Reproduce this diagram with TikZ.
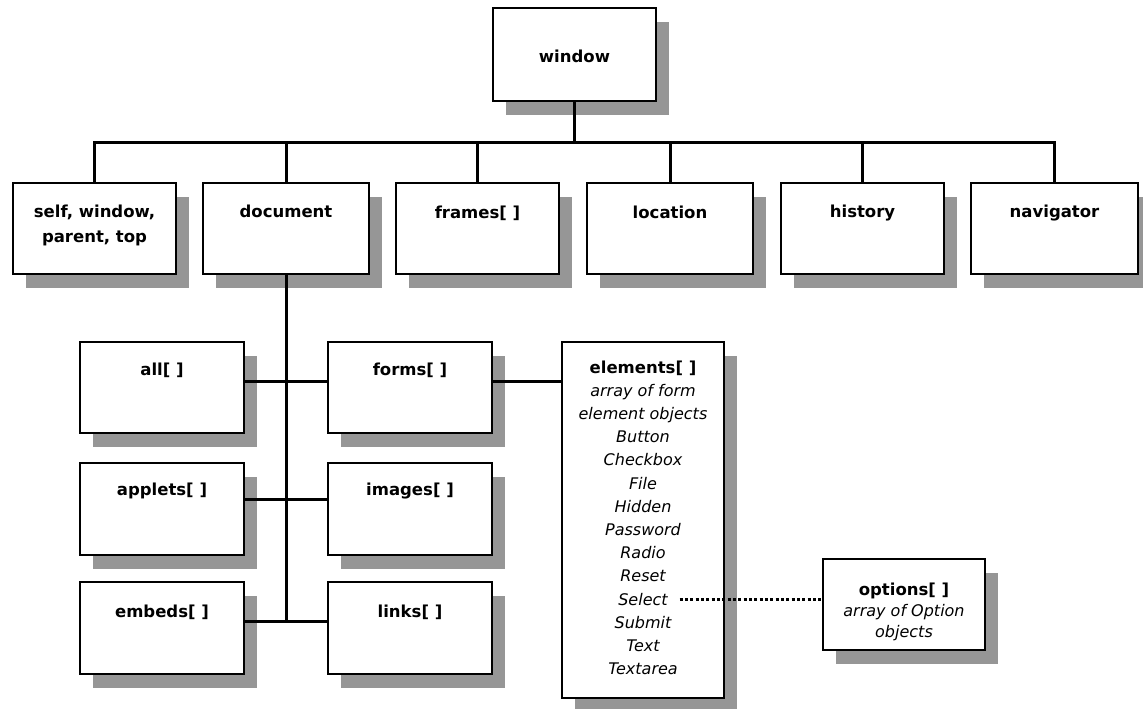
\documentclass[tikz,border=0pt]{standalone}
\usepackage{fontspec}
\setmainfont{DejaVu Sans}
\definecolor{shadowgray}{HTML}{969696}
\newcommand\objbox[5]{%
  \fill[shadowgray] ({#2+13},{#3+14}) rectangle ++(#4,#5);
  \node[box, minimum width={#4*0.6pt}, minimum height={#5*0.6pt}] (#1) at (#2,#3) {};}
\begin{document}
\begin{tikzpicture}[x=0.6pt,y=-0.6pt,
  box/.style={draw=black, line width=1.1pt, fill=white, anchor=north west, inner sep=0pt, outer sep=0pt},
  conn/.style={line width=1.8pt},
  lbl/.style={font=\bfseries\fontsize{9.9}{12}\selectfont, anchor=base, inner sep=0pt},
  itl/.style={font=\itshape\fontsize{9.6}{12}\selectfont, anchor=base, inner sep=0pt},
  dotline/.style={line width=1.8pt, dash pattern=on 1.8pt off 1.4pt}]
\useasboundingbox (0,0) rectangle (1143,708);

% boxes
\objbox{window}{493}{8}{163}{93}
\objbox{self}{13}{183}{163}{91}
\objbox{document}{203}{183}{166}{91}
\objbox{frames}{396}{183}{163}{91}
\objbox{location}{587}{183}{166}{91}
\objbox{history}{781}{183}{163}{91}
\objbox{navigator}{971}{183}{167}{91}
\objbox{all}{80}{342}{164}{91}
\objbox{forms}{328}{342}{164}{91}
\objbox{applets}{80}{463}{164}{92}
\objbox{images}{328}{463}{164}{92}
\objbox{embeds}{80}{582}{164}{92}
\objbox{links}{328}{582}{164}{92}
\objbox{elements}{562}{342}{162}{356}
\objbox{options}{823}{559}{162}{91}

% labels
\node[lbl] (twindow) at (574.5,62) {window};
\node[lbl] (tself1) at (94.5,217) {self, window,};
\node[lbl] (tself2) at (94.5,242) {parent, top};
\node[lbl] (tdocument) at (286,217) {document};
\node[lbl] (tframes) at (477.5,218) {frames[ ]};
\node[lbl] (tlocation) at (670,218) {location};
\node[lbl] (thistory) at (862.5,217) {history};
\node[lbl] (tnavigator) at (1054.5,217) {navigator};
\node[lbl] (tall) at (162,375) {all[ ]};
\node[lbl] (tforms) at (410,375) {forms[ ]};
\node[lbl] (tapplets) at (162,495) {applets[ ]};
\node[lbl] (timages) at (410,495) {images[ ]};
\node[lbl] (tembeds) at (162,617) {embeds[ ]};
\node[lbl] (tlinks) at (410,617) {links[ ]};
\node[lbl] (telements) at (643,373) {elements[ ]};
\foreach \t [count=\i] in {array of form, element objects, Button, Checkbox, File, Hidden, Password, Radio, Reset, Select, Submit, Text, Textarea}
  \node[itl] (el\i) at (643,{373+23.2*\i}) {\t};
\node[lbl] (toptions) at (904,595) {options[ ]};
\node[itl] (topt1) at (904,616) {array of Option};
\node[itl] (topt2) at (904,637) {objects};

% connectors
\coordinate (bus) at (574.5,142);
\draw[conn] (window.south) -- (bus);
\foreach \c in {self,document,frames,location,history,navigator}
  \draw[conn] (bus) -| (\c.north);
\coordinate (trunkend) at (286,621);
\draw[conn] (document.south) -- (document.south |- trunkend);
\draw[conn] ([yshift=3.6pt]all.east) -- ([yshift=3.6pt]forms.west);
\draw[conn] ([yshift=6pt]applets.east) -- ([yshift=6pt]images.west);
\draw[conn] ([yshift=4.2pt]embeds.east) -- ([yshift=4.2pt]links.west);
\draw[conn] ([yshift=3.6pt]forms.east) -- ([yshift=3.6pt]forms.east -| elements.west);
\draw[dotline] ([xshift=7pt]el10.east) -- (el10.east -| options.west);
\end{tikzpicture}
\end{document}
